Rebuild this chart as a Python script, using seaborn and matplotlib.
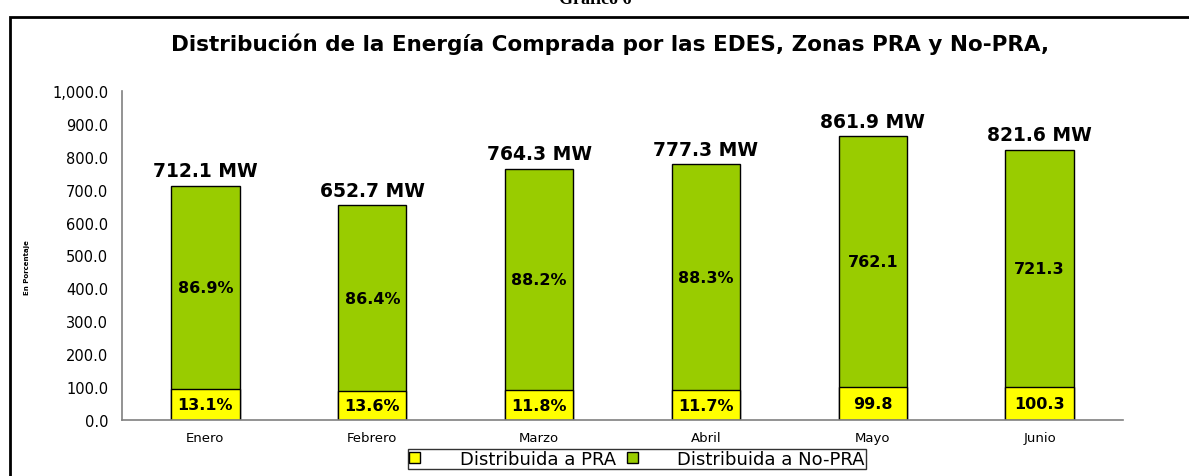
import pandas as pd
import numpy as np
import matplotlib.pyplot as plt
import seaborn as sns
from matplotlib.patches import Rectangle, Patch

months = ["Enero", "Febrero", "Marzo", "Abril", "Mayo", "Junio"]
total_mw = [712.1, 652.7, 764.3, 777.3, 861.9, 821.6]
pra_mw = [93.3, 88.8, 90.2, 90.9, 99.8, 100.3]
pra_labels = ["13.1%", "13.6%", "11.8%", "11.7%", "99.8", "100.3"]
nopra_labels = ["86.9%", "86.4%", "88.2%", "88.3%", "762.1", "721.3"]

YELLOW = "#FFFF00"
GREEN = "#99CC00"

sns.set_style("white")
plt.rcParams["font.family"] = ["DejaVu Sans"]
plt.rcParams["text.color"] = "black"
plt.rcParams["xtick.labelcolor"] = "black"
plt.rcParams["ytick.labelcolor"] = "black"

df = pd.DataFrame({"mes": months, "total": total_mw, "pra": pra_mw})

fig = plt.figure(figsize=(11.89, 4.77), dpi=100)
ax = fig.add_axes([122 / 1189, 1 - 421 / 477, (1123 - 122) / 1189, (421 - 92) / 477])

# stacked: total in green, PRA in yellow over it
sns.barplot(data=df, x="mes", y="total", color=GREEN, width=0.41,
            edgecolor="black", linewidth=1, saturation=1, ax=ax)
sns.barplot(data=df, x="mes", y="pra", color=YELLOW, width=0.41,
            edgecolor="black", linewidth=1, saturation=1, ax=ax)

ax.set_ylim(0, 1000)
ax.set_xlim(-0.5, 5.5)
ax.set_yticks(np.arange(0, 1001, 100))
ax.set_yticklabels([f"{v:,.1f}" for v in np.arange(0, 1001, 100)], fontsize=10.5)
ax.tick_params(axis="x", length=0, labelsize=9.5, pad=8)
ax.set_xticks(np.arange(-0.5, 6, 1), minor=True)
ax.tick_params(axis="x", which="minor", length=4, direction="out", color="#808080")
ax.tick_params(axis="y", length=4, direction="out", color="#808080", pad=6)
ax.set_xlabel("")
ax.set_ylabel("")
for s in ["top", "right"]:
    ax.spines[s].set_visible(False)
for s in ["left", "bottom"]:
    ax.spines[s].set_color("#808080")
    ax.spines[s].set_linewidth(1.2)

for i in range(len(months)):
    ax.text(i, total_mw[i] + 16, f"{total_mw[i]:.1f} MW", ha="center", va="bottom",
            fontsize=13.5, fontweight="bold")
    ax.text(i, pra_mw[i] / 2, pra_labels[i], ha="center", va="center",
            fontsize=11.5, fontweight="bold")
    ax.text(i, (total_mw[i] + pra_mw[i]) / 2, nopra_labels[i], ha="center", va="center",
            fontsize=11.5, fontweight="bold")

fig.text(610 / 1189, 1 - 44 / 477, "Distribución de la Energía Comprada por las EDES, Zonas PRA y No-PRA,",
         ha="center", va="center", fontsize=15.5, fontweight="bold")
fig.text(27 / 1189, 1 - 268 / 477, "En Porcentaje", rotation=90, ha="center", va="center",
         fontsize=5, fontweight="bold")
fig.text(595 / 1189, 1.0, "Gráfico 6", ha="center", va="center", fontsize=13,
         fontweight="bold", family=["Liberation Serif", "DejaVu Serif"])

# outer frame
fig.patches.append(Rectangle((10 / 1189, -0.1), 1.2, 1 - 18 / 477 + 0.1, transform=fig.transFigure,
                             fill=False, edgecolor="black", linewidth=2))

handles = [Patch(facecolor=YELLOW, edgecolor="black", label="Distribuida a PRA"),
           Patch(facecolor=GREEN, edgecolor="black", label="Distribuida a No-PRA")]
leg = fig.legend(handles=handles, loc="center", bbox_to_anchor=(637 / 1189, 1 - 460 / 477),
                 ncol=2, frameon=True, fancybox=False, edgecolor="black",
                 prop={"family": "DejaVu Sans", "size": 13},
                 handlelength=0.6, handleheight=0.5, handletextpad=2.2, columnspacing=0.6,
                 borderpad=0.05, borderaxespad=0)
leg.get_frame().set_linewidth(1)

fig.savefig("out.png", dpi=100)
